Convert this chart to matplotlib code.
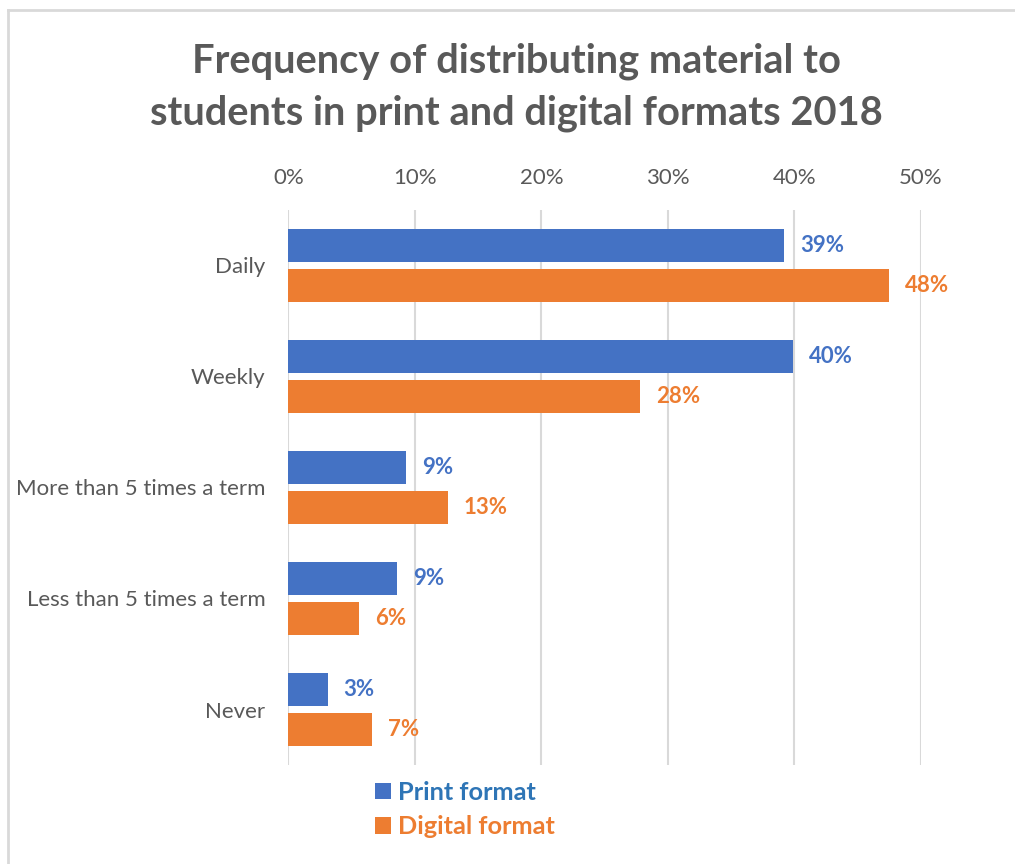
import numpy as np
import matplotlib.pyplot as plt
from matplotlib.lines import Line2D

plt.rcParams['font.family'] = ['Lato', 'DejaVu Sans']

categories = ['Daily', 'Weekly', 'More than 5 times a term', 'Less than 5 times a term', 'Never']
print_vals = [39.2, 39.9, 9.3, 8.6, 3.1]
digital_vals = [47.5, 27.8, 12.6, 5.6, 6.6]
series = ['Print format', 'Digital format']

blue = '#4472C4'
orange = '#ED7D31'
gray = '#595959'
grid = '#D9D9D9'

fig = plt.figure(figsize=(10.15, 8.64), dpi=100)
ax = fig.add_axes([288.3/1015, 1-765/864, (921-288.3)/1015, (765-210)/864])

y = np.arange(len(categories))
h = 0.296
off = 0.179
b1 = ax.barh(y - off, print_vals, height=h, color=blue, label=series[0], zorder=3)
b2 = ax.barh(y + off, digital_vals, height=h, color=orange, label=series[1], zorder=3)

for bars, vals, c in [(b1, print_vals, blue), (b2, digital_vals, orange)]:
    for bar, v in zip(bars, vals):
        ax.annotate(f'{round(v)}%', (v, bar.get_y() + bar.get_height()/2),
                    xytext=(11.5, 0), textcoords='offset points', va='center', ha='left',
                    color=c, fontsize=16, fontweight='bold')

ax.set_xlim(0, 50)
ax.set_ylim(4.5, -0.5)
ax.set_xticks(np.arange(0, 51, 10))
ax.set_xticklabels([f'{t}%' for t in range(0, 51, 10)])
ax.xaxis.tick_top()
ax.set_yticks(y)
ax.set_yticklabels(categories)
ax.tick_params(axis='both', length=0, labelsize=16, colors=gray)
ax.tick_params(axis='x', pad=16)
ax.tick_params(axis='y', pad=16.5)
ax.grid(axis='x', color=grid, linewidth=1.5, zorder=0)
for s in ax.spines.values():
    s.set_visible(False)

fig.suptitle('Frequency of distributing material to\nstudents in print and digital formats 2018',
             x=0.509, y=0.951, fontsize=28.7, fontweight='bold', color=gray, linespacing=1.5)

leg = fig.legend(handles=[b1, b2], loc='upper left', bbox_to_anchor=(352/1015, 1-758/864),
                 frameon=False, handlelength=0.62, handleheight=0.62, handletextpad=0.3,
                 labelspacing=0.45, labelcolor=['#2E75B6', orange],
                 prop={'size': 18.3, 'weight': 'bold'})

# chart frame (left and top edges)
fig.add_artist(Line2D([8/1015, 8/1015], [0, 1-10/864], transform=fig.transFigure, color=grid, lw=2))
fig.add_artist(Line2D([8/1015, 1], [1-10/864, 1-10/864], transform=fig.transFigure, color=grid, lw=2))

fig.savefig('out.png', dpi=100)
